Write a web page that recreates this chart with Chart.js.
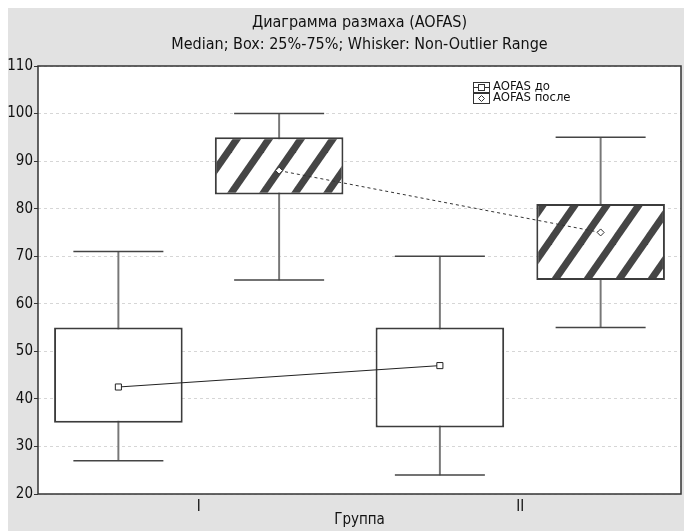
<!DOCTYPE html>
<html>
<head>
<meta charset="utf-8">
<script src="https://cdn.jsdelivr.net/npm/chart.js@4.4.0/dist/chart.umd.min.js"></script>
<style>
  html, body { margin: 0; padding: 0; background: #fff; }
  #wrap { position: absolute; left: 8px; top: 8px; width: 676px; height: 523px; }
</style>
</head>
<body>
<div id="wrap"><canvas id="box"></canvas></div>
<script>
// ---- data ----
var groups = ['I', 'II'];
var seriesNames = ['AOFAS до', 'AOFAS после'];
var doMedian = [42.5, 47];
var doQ1 = [35, 34];
var doQ3 = [55, 55];
var doMin = [27, 24];
var doMax = [71, 70];
var posleMedian = [88, 75];
var posleQ1 = [83, 65];
var posleQ3 = [95, 81];
var posleMin = [65, 55];
var posleMax = [100, 95];
var yTicks = [20, 30, 40, 50, 60, 70, 80, 90, 100, 110];

var FONT = "'Liberation Sans Narrow', 'DejaVu Sans Condensed', 'Roboto', sans-serif";

// x position on the hidden linear axis: group i, series k
function pts(vals, k) {
    return vals.map(function (v, i) { return {x: 2 * i + k + 0.5, y: v}; });
}
function ranges(lo, hi, k) {
    return lo.map(function (v, i) { return {x: 2 * i + k + 0.5, y: [v, hi[i]]}; });
}

// diagonal hatch for the "после" boxes
function makeHatch() {
    var t = document.createElement('canvas');
    t.width = 32; t.height = 46;
    var c = t.getContext('2d');
    c.fillStyle = '#fff';
    c.fillRect(0, 0, 32, 46);
    c.strokeStyle = '#454545';
    c.lineWidth = 7;
    // long segments so the stripes run through the tile edges without gaps
    for (var k = -2; k <= 2; k++) {
        c.beginPath();
        c.moveTo(k * 32 - 32, 92);
        c.lineTo(k * 32 + 64, -46);
        c.stroke();
    }
    return c.createPattern(t, 'repeat');
}
var hatch = makeHatch();

/*---------------- paper, frame and legend ----------------*/
var paperPlugin = {
    id: 'paper',
    beforeDraw: function (chart) {
        var c = chart.ctx, a = chart.chartArea;
        c.save();
        c.fillStyle = '#e2e2e2';
        c.fillRect(0, 0, chart.width, chart.height);
        c.fillStyle = '#fff';
        c.fillRect(a.left, a.top, a.right - a.left, a.bottom - a.top);
        c.restore();
    },
    afterDraw: function (chart) {
        var c = chart.ctx, a = chart.chartArea;
        c.save();
        c.strokeStyle = '#333';
        c.lineWidth = 1.5;
        c.strokeRect(a.left, a.top, a.right - a.left, a.bottom - a.top);

        // legend
        var lx = a.right - 208, ly = a.top + 21;
        c.font = '13px ' + FONT;
        c.textBaseline = 'middle';
        for (var k = 0; k < seriesNames.length; k++) {
            var y = ly + k * 11;
            c.fillStyle = '#fff';
            c.fillRect(lx, y - 5, 16, 10);
            c.strokeStyle = '#333';
            c.lineWidth = 1;
            c.strokeRect(lx + 0.5, y - 4.5, 16, 10);
            if (k === 0) {
                c.beginPath();
                c.moveTo(lx, y + 0.5); c.lineTo(lx + 16, y + 0.5);
                c.stroke();
                c.fillStyle = '#fff';
                c.fillRect(lx + 5.5, y - 2.5, 6, 6);
                c.strokeRect(lx + 5.5, y - 2.5, 6, 6);
            } else {
                c.beginPath();
                c.moveTo(lx + 8.5, y - 2.5); c.lineTo(lx + 11.5, y + 0.5);
                c.lineTo(lx + 8.5, y + 3.5); c.lineTo(lx + 5.5, y + 0.5);
                c.closePath();
                c.stroke();
            }
            c.fillStyle = '#111';
            c.fillText(seriesNames[k], lx + 20, y);
        }
        c.restore();
    }
};

var ctx = document.getElementById('box').getContext('2d');
var chart = new Chart(ctx, {
    type: 'bar',
    data: {
        datasets: [
            {
                type: 'line', label: seriesNames[0] + ' median', data: pts(doMedian, 0),
                borderColor: '#222', borderWidth: 1,
                pointStyle: 'rect', pointRadius: 4.3, pointBackgroundColor: '#fff',
                pointBorderColor: '#222', pointBorderWidth: 1, order: 0
            },
            {
                type: 'line', label: seriesNames[1] + ' median', data: pts(posleMedian, 1),
                borderColor: '#333', borderWidth: 1, borderDash: [3, 3],
                pointStyle: 'rectRot', pointRadius: 3.5, pointBackgroundColor: '#fff',
                pointBorderColor: '#333', pointBorderWidth: 1, order: 0
            },
            {
                label: seriesNames[0], data: ranges(doQ1, doQ3, 0),
                backgroundColor: '#fff', borderColor: '#3c3c3c', borderWidth: 2,
                borderSkipped: false, grouped: false,
                barPercentage: 0.8, categoryPercentage: 1, order: 1
            },
            {
                label: seriesNames[1], data: ranges(posleQ1, posleQ3, 1),
                backgroundColor: hatch, borderColor: '#3c3c3c', borderWidth: 2,
                borderSkipped: false, grouped: false,
                barPercentage: 0.8, categoryPercentage: 1, order: 1
            },
            {
                type: 'line', label: 'caps', showLine: false,
                data: pts(doMin, 0).concat(pts(doMax, 0), pts(posleMin, 1), pts(posleMax, 1)),
                pointStyle: 'line', pointRadius: 45, pointBorderColor: '#444',
                pointBorderWidth: 1.5, order: 2
            },
            {
                label: 'whisker до', data: ranges(doMin, doMax, 0),
                backgroundColor: '#777', barThickness: 1.3, grouped: false, order: 3
            },
            {
                label: 'whisker после', data: ranges(posleMin, posleMax, 1),
                backgroundColor: '#777', barThickness: 1.3, grouped: false, order: 3
            }
        ]
    },
    options: {
        responsive: true,
        maintainAspectRatio: false,
        animation: false,
        events: [],
        layout: {autoPadding: false, padding: {left: 0, right: 3, top: 0, bottom: 0}},
        scales: {
            x: {
                type: 'linear', min: 0, max: 4, offset: false,
                afterBuildTicks: function (s) {
                    s.ticks = groups.map(function (g, i) { return {value: 2 * i + 1}; });
                },
                afterFit: function (s) { s.height = 37; },
                ticks: {
                    callback: function (v) { return groups[(v - 1) / 2]; },
                    font: {family: FONT, size: 15}, color: '#111', padding: 4,
                    maxRotation: 0
                },
                grid: {display: false, drawTicks: false},
                border: {display: false},
                title: {
                    display: true, text: 'Группа', color: '#111',
                    font: {family: FONT, size: 15}, padding: {top: 0, bottom: 2}
                }
            },
            y: {
                min: 20, max: 110,
                afterBuildTicks: function (s) {
                    s.ticks = yTicks.map(function (v) { return {value: v}; });
                },
                afterFit: function (s) { s.width = 30; },
                ticks: {font: {family: FONT, size: 15}, color: '#111', padding: 1},
                grid: {
                    color: '#d6d6d6', tickLength: 4,
                    tickColor: '#333', tickBorderDash: []
                },
                border: {display: false, dash: [3, 3]}
            }
        },
        plugins: {
            legend: {display: false},
            tooltip: {enabled: false},
            title: {
                display: true, fullSize: false,
                text: ['Диаграмма размаха (AOFAS)', 'Median; Box: 25%-75%; Whisker: Non-Outlier Range'],
                color: '#111',
                font: {family: FONT, size: 16, weight: 'normal', lineHeight: 1.375},
                padding: {top: 4, bottom: 10}
            }
        }
    },
    plugins: [paperPlugin]
});
</script>
</body>
</html>
